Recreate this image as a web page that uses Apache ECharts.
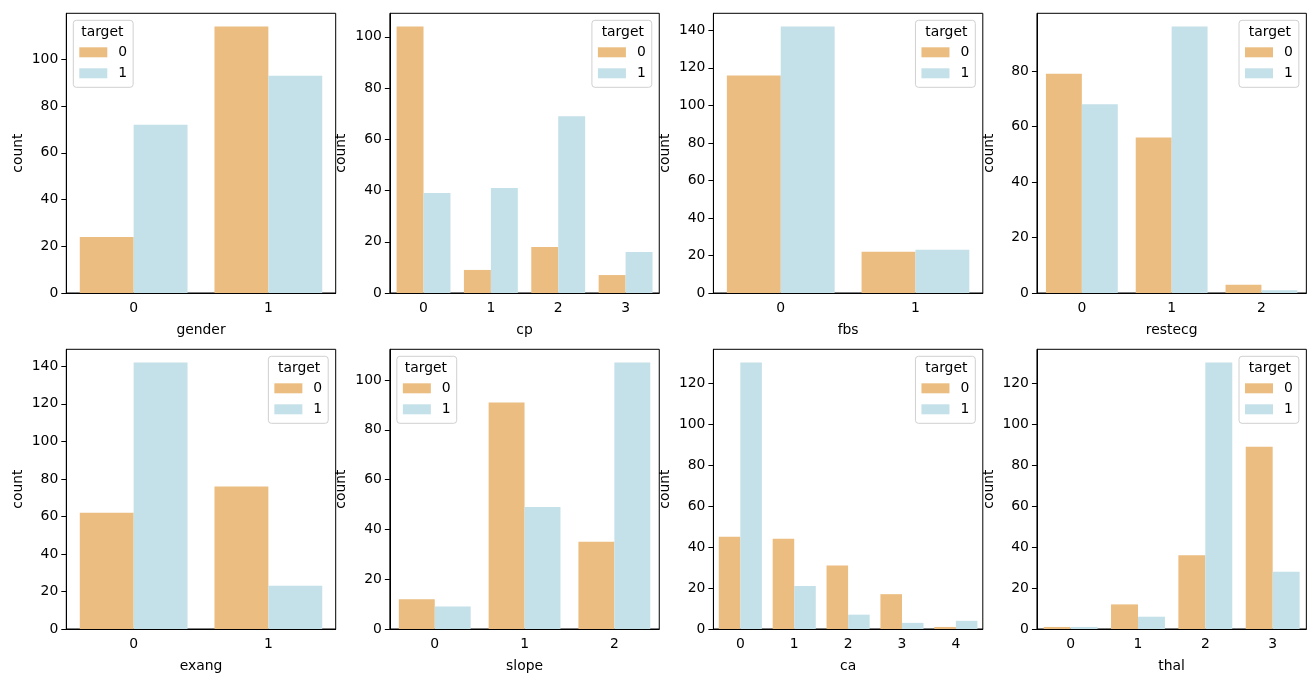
<!DOCTYPE html>
<html><head><meta charset="utf-8">
<script src="https://cdn.jsdelivr.net/npm/echarts@6/dist/echarts.min.js"></script>
<style>html,body{margin:0;padding:0;background:#fff}#c{width:1315px;height:682px}</style>
</head><body><div id="c"></div>
<script>
// ---- data ----
const genderCats = ['0','1'];   const genderT0 = [24,114];          const genderT1 = [72,93];
const cpCats = ['0','1','2','3'];  const cpT0 = [104,9,18,7];        const cpT1 = [39,41,69,16];
const fbsCats = ['0','1'];      const fbsT0 = [116,22];             const fbsT1 = [142,23];
const restecgCats = ['0','1','2']; const restecgT0 = [79,56,3];      const restecgT1 = [68,96,1];
const exangCats = ['0','1'];    const exangT0 = [62,76];            const exangT1 = [142,23];
const slopeCats = ['0','1','2']; const slopeT0 = [12,91,35];        const slopeT1 = [9,49,107];
const caCats = ['0','1','2','3','4']; const caT0 = [45,44,31,17,1]; const caT1 = [130,21,7,3,4];
const thalCats = ['0','1','2','3']; const thalT0 = [1,12,36,89];    const thalT1 = [1,6,130,28];
const yTicks = {
  gender:[0,20,40,60,80,100], cp:[0,20,40,60,80,100], fbs:[0,20,40,60,80,100,120,140],
  restecg:[0,20,40,60,80], exang:[0,20,40,60,80,100,120,140], slope:[0,20,40,60,80,100],
  ca:[0,20,40,60,80,100,120], thal:[0,20,40,60,80,100,120]
};
const legendNames = ['0','1'];
const legendTitle = 'target';
const yName = 'count';

const panels = [
  {name:'gender', cats:genderCats, t0:genderT0, t1:genderT1, leg:'left'},
  {name:'cp', cats:cpCats, t0:cpT0, t1:cpT1, leg:'right'},
  {name:'fbs', cats:fbsCats, t0:fbsT0, t1:fbsT1, leg:'right'},
  {name:'restecg', cats:restecgCats, t0:restecgT0, t1:restecgT1, leg:'right'},
  {name:'exang', cats:exangCats, t0:exangT0, t1:exangT1, leg:'right'},
  {name:'slope', cats:slopeCats, t0:slopeT0, t1:slopeT1, leg:'left'},
  {name:'ca', cats:caCats, t0:caT0, t1:caT1, leg:'right'},
  {name:'thal', cats:thalCats, t0:thalT0, t1:thalT1, leg:'right'}
];

const C0 = '#EBBD80', C1 = '#C4E0E8';
const FONT = 'DejaVu Sans';
const FS = 13.9;
const W = 1315;
const gridLeft0 = 66.3, colStep = 323.55, gridW = 269.4;
const gridTop0 = 13.3, rowStep = 336, gridH = 279.7;
const legW = 58;

const grid = [], xAxis = [], yAxis = [], series = [], legend = [], graphic = [];
panels.forEach((p, i) => {
  const r = Math.floor(i / 4), c = i % 4;
  const left = gridLeft0 + c * colStep, top = gridTop0 + r * rowStep;
  grid.push({left: left, top: top, width: gridW, height: gridH, show: true,
    borderColor: '#000', borderWidth: 1, backgroundColor: 'transparent', containLabel: false});
  xAxis.push({type: 'category', gridIndex: i, data: p.cats, boundaryGap: true,
    name: p.name, nameLocation: 'middle', nameGap: 30,
    nameTextStyle: {fontFamily: FONT, fontSize: FS, color: '#000'},
    axisLine: {lineStyle: {color: '#000', width: 1}},
    axisTick: {alignWithLabel: true, length: 5, lineStyle: {color: '#000'}},
    axisLabel: {fontFamily: FONT, fontSize: FS, color: '#000', margin: 8},
    splitLine: {show: false}});
  const mx = Math.max(...p.t0, ...p.t1) * 1.05;
  const ticks = yTicks[p.name];
  yAxis.push({type: 'value', gridIndex: i, min: 0, max: mx,
    name: yName, nameLocation: 'middle', nameGap: 41,
    nameTextStyle: {fontFamily: FONT, fontSize: FS, color: '#000'},
    axisLine: {show: true, lineStyle: {color: '#000', width: 1}},
    axisTick: {show: true, length: 5, lineStyle: {color: '#000'}, customValues: ticks},
    axisLabel: {fontFamily: FONT, fontSize: FS, color: '#000', margin: 8, customValues: ticks},
    splitLine: {show: false}});
  series.push({type: 'bar', name: '0', xAxisIndex: i, yAxisIndex: i, data: p.t0,
    itemStyle: {color: C0}, barGap: '0%', barCategoryGap: '20%', emphasis: {disabled: true}});
  series.push({type: 'bar', name: '1', xAxisIndex: i, yAxisIndex: i, data: p.t1,
    itemStyle: {color: C1}, barGap: '0%', barCategoryGap: '20%', emphasis: {disabled: true}});
  const lg = {data: legendNames, orient: 'vertical', top: top + 7,
    itemWidth: 28, itemHeight: 10, itemGap: 7, icon: 'rect',
    padding: [25, 6, 7, 6], backgroundColor: '#fff', borderColor: '#d0d0d0', borderWidth: 1, borderRadius: 3,
    textStyle: {fontFamily: FONT, fontSize: FS, color: '#000', padding: [0, 0, 0, 6]},
    selectedMode: false, z: 10};
  let cx;
  if (p.leg === 'left') { lg.left = left + 7; cx = left + 7 + legW / 2; }
  else { lg.right = W - (left + gridW - 7.5); cx = left + gridW - 7.5 - legW / 2; }
  legend.push(lg);
  graphic.push({type: 'text', x: cx, y: top + 19, z: 100,
    style: {text: legendTitle, fontFamily: FONT, fontSize: FS, fill: '#000', align: 'center', verticalAlign: 'middle'}});
});

const chart = echarts.init(document.getElementById('c'), null, {renderer: 'canvas'});
chart.setOption({animation: false, backgroundColor: '#fff', grid, xAxis, yAxis, series, legend, graphic});
</script></body></html>
